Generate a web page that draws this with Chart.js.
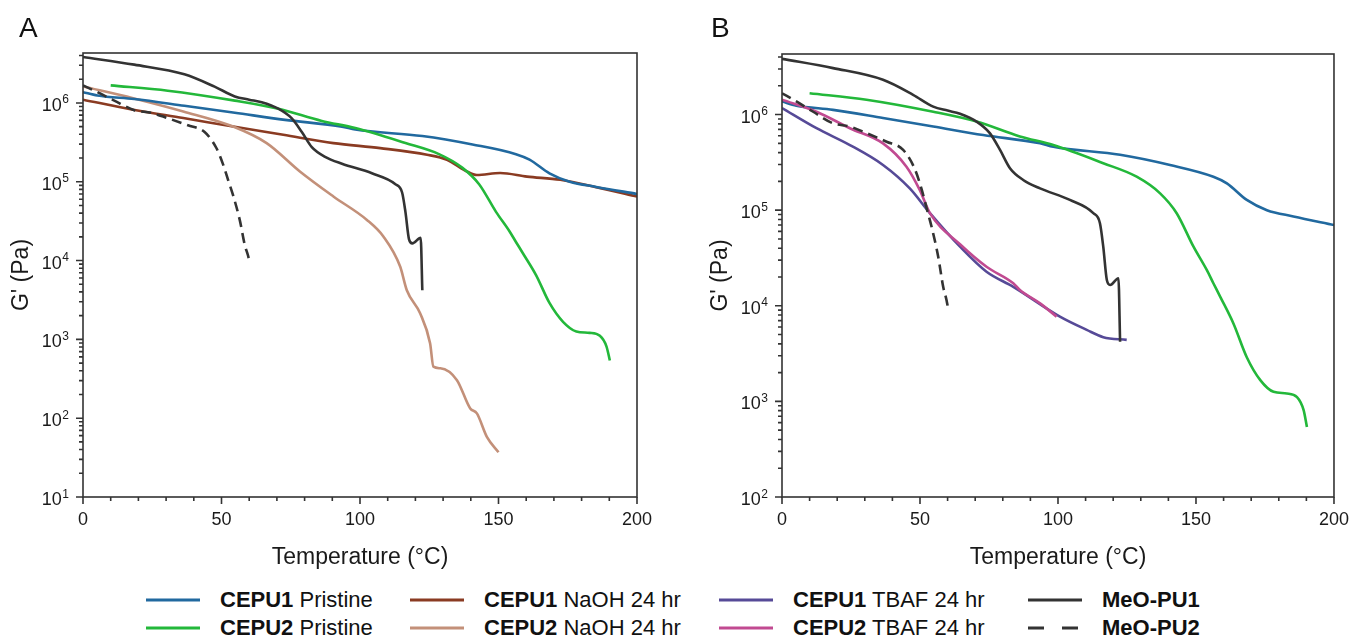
<!DOCTYPE html>
<html lang="en">
<head>
<meta charset="UTF-8">
<title>Storage modulus vs temperature</title>
<script src="https://cdn.jsdelivr.net/npm/chart.js"></script>
<style>
  body { margin: 0; background: #fff; font-family: 'Liberation Sans', Arial, sans-serif; }
  #page { position: relative; width: 1352px; height: 640px; overflow: hidden; }
  canvas { position: absolute; top: 0; }
  #chartA { left: 0; }
  #chartB { left: 680px; }
  .panel-letter { position: absolute; top: 14px; font-size: 28px; line-height: 28px; color: #111; }
  .legend-item { position: absolute; display: flex; align-items: center; height: 28px; font-size: 22px; color: #111; white-space: nowrap; }
  .legend-item svg { margin-right: 20px; flex: none; }
</style>
</head>
<body>
<div id="page">
  <canvas id="chartA" width="680" height="575"></canvas>
  <canvas id="chartB" width="681" height="575"></canvas>
  <div class="panel-letter" style="left:19px">A</div>
  <div class="panel-letter" style="left:711px">B</div>
  <div id="legend"></div>
</div>

<script>
const FONT = "'Liberation Sans', Arial, sans-serif";
const AXIS_COLOR = '#333';

// Temperature (°C) and G' (Pa)
const cepu1PristineT = [0, 5.2, 18.5, 36.6, 54.8, 72.9, 93.5, 98.3, 122.5, 140.6, 156.3, 161.2, 168.4, 175.7, 185.3, 200];
const cepu1PristineG = [1.37e6, 1.24e6, 1.12e6, 9.2e5, 7.5e5, 6.1e5, 5.0e5, 4.6e5, 3.8e5, 2.97e5, 2.24e5, 1.91e5, 1.28e5, 1.0e5, 8.6e4, 7.0e4];

const cepu2PristineT = [10, 30.6, 54.8, 70.5, 86.2, 98.3, 116.4, 128.5, 137, 143, 149.1, 153.9, 156.3, 158.8, 163.6, 168.4, 173.3, 178.1, 182.9, 186.6, 189, 190.2];
const cepu2PristineG = [1.67e6, 1.43e6, 1.07e6, 8.45e5, 5.9e5, 4.8e5, 3.1e5, 2.24e5, 1.5e5, 9.3e4, 4.15e4, 2.37e4, 1.72e4, 1.24e4, 6.5e3, 2.9e3, 1.67e3, 1.26e3, 1.21e3, 1.11e3, 8.1e2, 5.4e2];

const cepu1NaohT = [0, 18.1, 36.2, 54.2, 72.3, 90.4, 107.3, 124.2, 131.4, 138.6, 142.2, 150.6, 160.3, 172.3, 186.8, 200];
const cepu1NaohG = [1.1e6, 8.2e5, 6.43e5, 5.02e5, 3.94e5, 3.09e5, 2.67e5, 2.2e5, 1.9e5, 1.35e5, 1.22e5, 1.29e5, 1.16e5, 1.06e5, 8.3e4, 6.5e4];

const cepu2NaohT = [0, 18.1, 36.2, 54.2, 66.3, 78.3, 90.4, 102.5, 108.5, 114.5, 116.9, 121.7, 125.3, 126.5, 129, 135, 139.8, 142.2, 145.8, 150];
const cepu2NaohG = [1.62e6, 1.15e6, 7.8e5, 5.02e5, 3.09e5, 1.35e5, 6.5e4, 3.28e4, 2.01e4, 8.4e3, 4.2e3, 2.14e3, 8.9e2, 4.5e2, 4.3e2, 3.04e2, 1.33e2, 1.15e2, 58, 37];

const cepu1TbafT = [0, 12.5, 24.6, 36.6, 46.3, 53.6, 64.5, 74.1, 83.8, 100.7, 110.4, 116.4, 124.9];
const cepu1TbafG = [1.17e6, 7.2e5, 4.8e5, 2.97e5, 1.69e5, 9.3e4, 4.15e4, 2.27e4, 1.58e4, 7.7e3, 5.6e3, 4.7e3, 4.4e3];

const cepu2TbafT = [0, 12.5, 24.6, 36.6, 45.1, 49.9, 53.6, 64.5, 74.1, 83.8, 86.2, 93.5, 99.5];
const cepu2TbafG = [1.43e6, 1.07e6, 7.2e5, 5.0e5, 2.85e5, 1.63e5, 9.3e4, 4.4e4, 2.56e4, 1.72e4, 1.46e4, 1.06e4, 7.7e3];

const meoPu1T = [0, 18.5, 36.6, 47.5, 54.8, 60, 64.5, 70.5, 75.3, 79, 82.6, 87.4, 93.5, 104.3, 112.8, 115.2, 116.4, 117.7, 118.9, 121.9, 122.5];
const meoPu1G = [3.83e6, 3.06e6, 2.31e6, 1.61e6, 1.21e6, 1.10e6, 1.02e6, 8.45e5, 6.4e5, 4.27e5, 2.75e5, 2.07e5, 1.69e5, 1.28e5, 9.3e4, 7.3e4, 4.15e4, 1.86e4, 1.65e4, 1.94e4, 4.2e3];

const meoPu2T = [0, 5.2, 11.3, 18.5, 24.6, 30.6, 37.9, 43.9, 48.1, 50.6, 52.4, 54.2, 56.6, 58.4, 59.6, 60];
const meoPu2G = [1.67e6, 1.37e6, 1.07e6, 8.1e5, 7.5e5, 6.4e5, 5.2e5, 4.27e5, 2.7e5, 1.65e5, 1.05e5, 6.7e4, 3.26e4, 1.58e4, 1.15e4, 1.0e4];

// axes
const xMajorTicks = [0, 50, 100, 150, 200];
const X_MINOR_STEP = 10;
const yDecadesA = [1, 2, 3, 4, 5, 6];
const yDecadesB = [2, 3, 4, 5, 6];
const Y_MAX = 4.3e6;

const COLORS = {
  cepu1Pristine: '#21699f',
  cepu2Pristine: '#23b83a',
  cepu1Naoh: '#8a3b22',
  cepu2Naoh: '#c39079',
  cepu1Tbaf: '#564a97',
  cepu2Tbaf: '#c14a91',
  meo: '#333333'
};

const pts = (t, g) => t.map((v, i) => ({ x: v, y: g[i] }));

function line(label, t, g, color, dash) {
  return {
    label: label,
    data: pts(t, g),
    borderColor: color,
    borderWidth: 2.6,
    borderDash: dash || [],
    pointRadius: 0,
    fill: false,
    cubicInterpolationMode: 'monotone'
  };
}

// frame, tick marks and 10^n labels
const framePlugin = {
  id: 'frame',
  afterDraw(chart, args, opts) {
    const { ctx, chartArea: a } = chart;
    const x = chart.scales.x, y = chart.scales.y;
    ctx.save();
    ctx.strokeStyle = AXIS_COLOR;
    ctx.lineWidth = 1.6;
    ctx.strokeRect(a.left, a.top, a.right - a.left, a.bottom - a.top);

    ctx.beginPath();
    for (let t = x.min; t <= x.max; t += X_MINOR_STEP) {
      const px = x.getPixelForValue(t);
      const len = xMajorTicks.includes(t) ? 7 : 4;
      ctx.moveTo(px, a.bottom);
      ctx.lineTo(px, a.bottom + len);
    }
    opts.decades.forEach(e => {
      for (let k = 1; k <= 9; k++) {
        const v = k * Math.pow(10, e);
        if (v < y.min || v > y.max) continue;
        const py = y.getPixelForValue(v);
        ctx.moveTo(a.left, py);
        ctx.lineTo(a.left - (k === 1 ? 7 : 4), py);
      }
    });
    ctx.stroke();

    ctx.fillStyle = '#1a1a1a';
    ctx.textBaseline = 'alphabetic';
    opts.decades.forEach(e => {
      const py = y.getPixelForValue(Math.pow(10, e));
      const right = a.left - 14;
      const sup = String(e);
      ctx.font = '12px ' + FONT;
      const sw = ctx.measureText(sup).width;
      ctx.textAlign = 'left';
      ctx.fillText(sup, right - sw, py + 0.5);
      ctx.font = '18px ' + FONT;
      ctx.textAlign = 'right';
      ctx.fillText('10', right - sw - 0.5, py + 8);
    });
    ctx.restore();
  }
};

function makeChart(id, datasets, yMin, decades, pad) {
  return new Chart(document.getElementById(id), {
    type: 'line',
    data: { datasets: datasets },
    options: {
      responsive: false,
      animation: false,
      devicePixelRatio: 1,
      layout: { padding: pad },
      plugins: {
        legend: { display: false },
        tooltip: { enabled: false },
        frame: { decades: decades }
      },
      scales: {
        x: {
          type: 'linear', min: 0, max: 200,
          grid: { display: false, drawTicks: false },
          border: { display: false },
          ticks: { stepSize: 50, padding: 12, maxRotation: 0, color: '#1a1a1a', font: { family: FONT, size: 18 } },
          title: { display: true, text: 'Temperature (°C)', color: '#1a1a1a', font: { family: FONT, size: 23 }, padding: { top: 0, bottom: 1 } },
          afterFit: s => { s.height = 75; }
        },
        y: {
          type: 'logarithmic', min: yMin, max: Y_MAX,
          grid: { display: false, drawTicks: false },
          border: { display: false },
          ticks: { display: false },
          title: { display: true, text: "G' (Pa)", color: '#1a1a1a', font: { family: FONT, size: 23 }, padding: { top: 8, bottom: 0 } },
          afterFit: s => { s.width = 83; }
        }
      }
    },
    plugins: [framePlugin]
  });
}

makeChart('chartA', [
  line('MeO-PU2', meoPu2T, meoPu2G, COLORS.meo, [10, 6]),
  line('MeO-PU1', meoPu1T, meoPu1G, COLORS.meo),
  line('CEPU2 Pristine', cepu2PristineT, cepu2PristineG, COLORS.cepu2Pristine),
  line('CEPU1 Pristine', cepu1PristineT, cepu1PristineG, COLORS.cepu1Pristine),
  line('CEPU2 NaOH 24 hr', cepu2NaohT, cepu2NaohG, COLORS.cepu2Naoh),
  line('CEPU1 NaOH 24 hr', cepu1NaohT, cepu1NaohG, COLORS.cepu1Naoh)
], 10, yDecadesA, { left: 0, right: 43, top: 53, bottom: 3 });

makeChart('chartB', [
  line('MeO-PU2', meoPu2T, meoPu2G, COLORS.meo, [10, 6]),
  line('MeO-PU1', meoPu1T, meoPu1G, COLORS.meo),
  line('CEPU2 TBAF 24 hr', cepu2TbafT, cepu2TbafG, COLORS.cepu2Tbaf),
  line('CEPU1 TBAF 24 hr', cepu1TbafT, cepu1TbafG, COLORS.cepu1Tbaf),
  line('CEPU2 Pristine', cepu2PristineT, cepu2PristineG, COLORS.cepu2Pristine),
  line('CEPU1 Pristine', cepu1PristineT, cepu1PristineG, COLORS.cepu1Pristine)
], 100, yDecadesB, { left: 19, right: 18, top: 54, bottom: 3 });

// shared legend below both panels
const legendItems = [
  { bold: 'CEPU1', rest: ' Pristine', color: COLORS.cepu1Pristine, left: 146, top: 586 },
  { bold: 'CEPU2', rest: ' Pristine', color: COLORS.cepu2Pristine, left: 146, top: 614 },
  { bold: 'CEPU1', rest: ' NaOH 24 hr', color: COLORS.cepu1Naoh, left: 410, top: 586 },
  { bold: 'CEPU2', rest: ' NaOH 24 hr', color: COLORS.cepu2Naoh, left: 410, top: 614 },
  { bold: 'CEPU1', rest: ' TBAF 24 hr', color: COLORS.cepu1Tbaf, left: 719, top: 586 },
  { bold: 'CEPU2', rest: ' TBAF 24 hr', color: COLORS.cepu2Tbaf, left: 719, top: 614 },
  { bold: 'MeO-PU1', rest: '', color: COLORS.meo, left: 1028, top: 586 },
  { bold: 'MeO-PU2', rest: '', color: COLORS.meo, left: 1028, top: 614, dash: '16 18' }
];

const legend = document.getElementById('legend');
legendItems.forEach(it => {
  const el = document.createElement('div');
  el.className = 'legend-item';
  el.style.left = it.left + 'px';
  el.style.top = it.top + 'px';
  el.innerHTML =
    '<svg width="54" height="6"><line x1="0" y1="3" x2="54" y2="3" stroke="' + it.color +
    '" stroke-width="3"' + (it.dash ? ' stroke-dasharray="' + it.dash + '"' : '') + '/></svg>' +
    '<span><b>' + it.bold + '</b>' + it.rest + '</span>';
  legend.appendChild(el);
});
</script>
</body>
</html>
